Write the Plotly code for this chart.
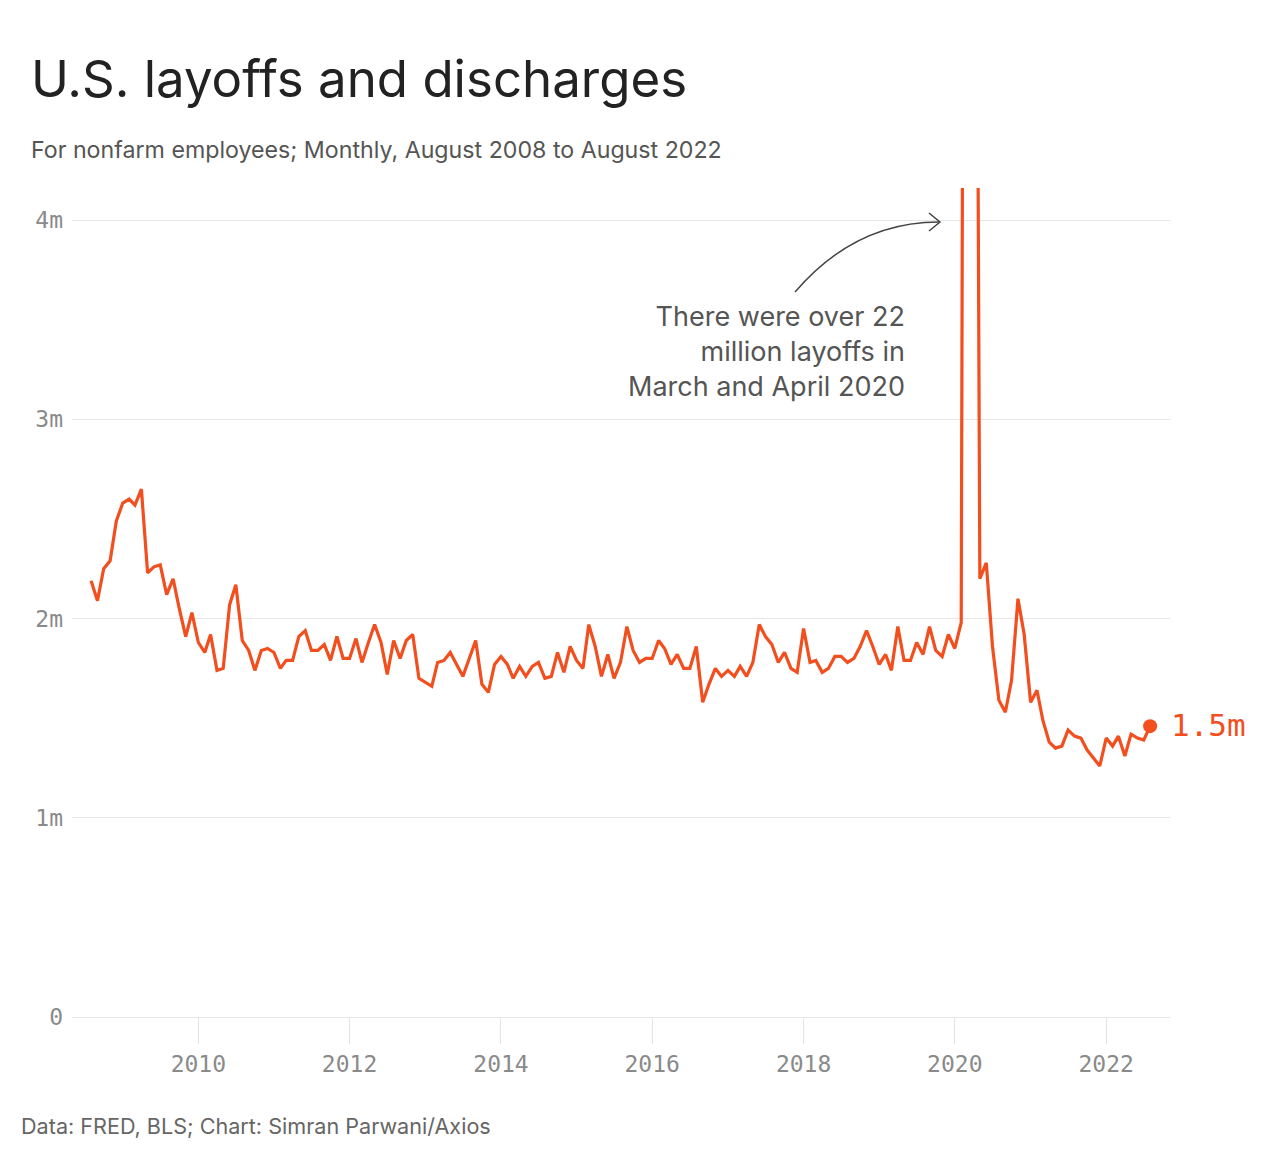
import plotly.graph_objects as go
import pandas as pd

# ---- Data (millions of layoffs and discharges, monthly Aug 2008 - Aug 2022) ----
values_2008 = [2.19, 2.09, 2.25, 2.29, 2.49]  # Aug-Dec
values_2009 = [2.58, 2.60, 2.57, 2.65, 2.23, 2.26, 2.27, 2.12, 2.20, 2.05, 1.91, 2.03]
values_2010 = [1.88, 1.83, 1.92, 1.74, 1.75, 2.07, 2.17, 1.89, 1.84, 1.74, 1.84, 1.85]
values_2011 = [1.83, 1.75, 1.79, 1.79, 1.91, 1.94, 1.84, 1.84, 1.87, 1.79, 1.91, 1.80]
values_2012 = [1.80, 1.90, 1.78, 1.88, 1.97, 1.88, 1.72, 1.89, 1.80, 1.89, 1.92, 1.70]
values_2013 = [1.68, 1.66, 1.78, 1.79, 1.83, 1.77, 1.71, 1.80, 1.89, 1.67, 1.63, 1.77]
values_2014 = [1.81, 1.77, 1.70, 1.76, 1.71, 1.76, 1.78, 1.70, 1.71, 1.83, 1.73, 1.86]
values_2015 = [1.79, 1.75, 1.97, 1.86, 1.71, 1.82, 1.70, 1.78, 1.96, 1.84, 1.78, 1.80]
values_2016 = [1.80, 1.89, 1.85, 1.77, 1.82, 1.75, 1.75, 1.86, 1.58, 1.67, 1.75, 1.71]
values_2017 = [1.74, 1.71, 1.76, 1.71, 1.78, 1.97, 1.91, 1.87, 1.78, 1.83, 1.75, 1.73]
values_2018 = [1.95, 1.78, 1.79, 1.73, 1.75, 1.81, 1.81, 1.78, 1.80, 1.86, 1.94, 1.86]
values_2019 = [1.77, 1.82, 1.74, 1.96, 1.79, 1.79, 1.88, 1.82, 1.96, 1.84, 1.81, 1.92]
values_2020 = [1.85, 1.98, 13.0, 9.4, 2.20, 2.28, 1.86, 1.59, 1.53, 1.69, 2.10, 1.92]
values_2021 = [1.58, 1.64, 1.49, 1.38, 1.35, 1.36, 1.44, 1.41, 1.40, 1.34, 1.30, 1.26]
values_2022 = [1.40, 1.36, 1.41, 1.31, 1.42, 1.40, 1.39, 1.46]  # Jan-Aug

values = (values_2008 + values_2009 + values_2010 + values_2011 + values_2012 +
          values_2013 + values_2014 + values_2015 + values_2016 + values_2017 +
          values_2018 + values_2019 + values_2020 + values_2021 + values_2022)
dates = pd.date_range("2008-08-01", periods=len(values), freq="MS")

y_tick_vals = [0, 1, 2, 3, 4]
y_tick_text = ["0", "1m", "2m", "3m", "4m"]
end_label = "1.5m"

title = "U.S. layoffs and discharges"
subtitle = "For nonfarm employees; Monthly, August 2008 to August 2022"
note = "There were over 22<br>million layoffs in<br>March and April 2020"
source = "Data: FRED, BLS; Chart: Simran Parwani/Axios"

# ---- Layout geometry (page pixels; figure sits 8px inside the page) ----
OFF = 8
W, H = 1280 - OFF, 1157 - OFF
L, R, T, B = 72, 1170, 188, 1017   # page coordinates of the plot area

def px(x):
    return (x - L) / (R - L)

def py(y):
    return (B - y) / (B - T)

ORANGE = "#F24E1E"
GRID = "#e6e6e6"
TICKFONT = "DejaVu Sans Mono"
TEXTFONT = "Inter"

fig = go.Figure()
fig.add_trace(go.Scatter(
    x=dates, y=values, mode="lines",
    line=dict(color=ORANGE, width=3.2),
    hoverinfo="skip", showlegend=False,
))
fig.add_trace(go.Scatter(
    x=[dates[-1]], y=[values[-1]], mode="markers",
    marker=dict(color=ORANGE, size=14),
    hoverinfo="skip", showlegend=False, cliponaxis=False,
))

fig.update_layout(
    width=W, height=H,
    margin=dict(l=L - OFF, r=W - (R - OFF), t=T - OFF, b=H - (B - OFF), pad=0),
    paper_bgcolor="white", plot_bgcolor="white",
    font=dict(family=TEXTFONT, color="#333"),
    xaxis=dict(
        type="date",
        range=["2008-05-01", "2022-11-05"],
        tick0="2010-01-01", dtick="M24", tickformat="%Y",
        ticks="outside", ticklen=26, tickwidth=1, tickcolor="#e3e3e3",
        showgrid=False, showline=False, zeroline=False,
        tickfont=dict(family=TICKFONT, size=23, color="#8a8a8a"),
    ),
    yaxis=dict(
        range=[0, (B - T) / 199.2],
        tickvals=y_tick_vals, ticktext=y_tick_text,
        showgrid=True, gridcolor=GRID, gridwidth=1.2,
        zeroline=True, zerolinecolor=GRID, zerolinewidth=1.2,
        showline=False, ticks="",
        ticklabelstandoff=8,
        tickfont=dict(family=TICKFONT, size=23, color="#8a8a8a"),
    ),
)

annotations = [
    dict(text=title, x=px(29), y=py(78), xref="paper", yref="paper",
         xanchor="left", yanchor="middle", showarrow=False,
         font=dict(family=TEXTFONT, size=51, color="#222")),
    dict(text=subtitle, x=px(29), y=py(150), xref="paper", yref="paper",
         xanchor="left", yanchor="middle", showarrow=False,
         font=dict(family=TEXTFONT, size=23.2, color="#555")),
    dict(text=source, x=px(19), y=py(1126), xref="paper", yref="paper",
         xanchor="left", yanchor="middle", showarrow=False,
         font=dict(family=TEXTFONT, size=21.6, color="#666")),
    dict(text=note, x=px(907), y=py(351), xref="paper", yref="paper",
         xanchor="right", yanchor="middle", align="right", showarrow=False,
         font=dict(family=TEXTFONT, size=27, color="#555")),
    dict(text=end_label, x=dates[-1], y=values[-1], xref="x", yref="y",
         xanchor="left", yanchor="middle", xshift=19, yshift=1, showarrow=False,
         font=dict(family=TICKFONT, size=31, color=ORANGE)),
]
fig.update_layout(annotations=annotations)

# curved arrow pointing at the spike
curve = "M {:.4f} {:.4f} Q {:.4f} {:.4f} {:.4f} {:.4f}".format(
    px(795), py(292), px(855), py(222), px(939), py(222))
head = "M {:.4f} {:.4f} L {:.4f} {:.4f} L {:.4f} {:.4f}".format(
    px(929), py(213), px(940), py(222), px(929), py(231))
fig.add_shape(type="path", path=curve, xref="paper", yref="paper",
              line=dict(color="#444", width=1.5))
fig.add_shape(type="path", path=head, xref="paper", yref="paper",
              line=dict(color="#444", width=1.5))

fig.write_html("out.html")
